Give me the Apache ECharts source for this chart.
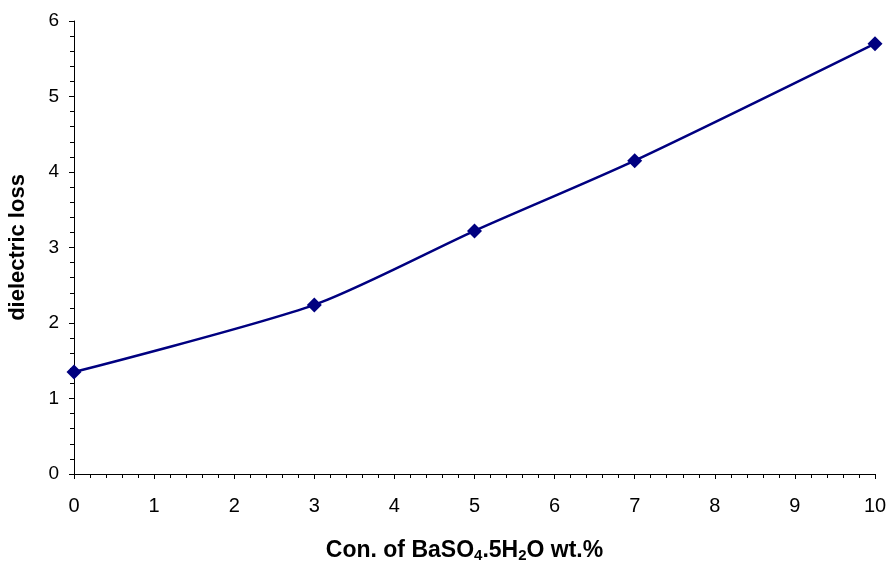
<!DOCTYPE html>
<html><head><meta charset="utf-8">
<script src="https://cdn.jsdelivr.net/npm/echarts@6/dist/echarts.min.js"></script>
<style>html,body{margin:0;padding:0;background:#fff}#c{width:889px;height:561px}</style>
</head><body><div id="c"></div>
<script>
const xValues = [0, 3, 5, 7, 10];
const lossValues = [1.35, 2.24, 3.22, 4.15, 5.70];
const xTicks = [0,1,2,3,4,5,6,7,8,9,10];
const yTicks = [0,1,2,3,4,5,6];

const chart = echarts.init(document.getElementById('c'));
const font = 'Liberation Sans, Arial, sans-serif';
chart.setOption({
  animation: false,
  grid: {left: 74, right: 14, top: 21, bottom: 87, containLabel: false, outerBoundsMode: 'none'},
  xAxis: {
    type: 'value', min: xTicks[0], max: xTicks[xTicks.length-1], interval: 1,
    axisLine: {lineStyle: {color: '#000', width: 1}},
    axisTick: {show: true, length: 5, lineStyle: {color: '#000'}},
    minorTick: {show: true, splitNumber: 5, length: 4, lineStyle: {color: '#000'}},
    splitLine: {show: false},
    axisLabel: {color: '#000', fontSize: 20, fontFamily: font, margin: 22},
    name: '{b|Con. of BaSO}{s|4}{b|.5H}{s|2}{b|O wt.%}',
    nameLocation: 'middle', nameGap: 64,
    nameTextStyle: {
      padding: [0, 20, 0, 0],
      rich: {
        b: {fontSize: 23, fontWeight: 'bold', fontFamily: font, color: '#000'},
        s: {fontSize: 15, fontWeight: 'bold', fontFamily: font, color: '#000', padding: [10,0,0,0]}
      }
    }
  },
  yAxis: {
    type: 'value', min: yTicks[0], max: yTicks[yTicks.length-1], interval: 1,
    axisLine: {show: true, lineStyle: {color: '#000', width: 1}},
    axisTick: {show: true, length: 5, lineStyle: {color: '#000'}},
    minorTick: {show: true, splitNumber: 5, length: 4, lineStyle: {color: '#000'}},
    splitLine: {show: false},
    axisLabel: {color: '#000', fontSize: 19, fontFamily: font, margin: 15},
    name: 'dielectric loss', nameLocation: 'middle', nameGap: 45,
    nameTextStyle: {fontSize: 22, fontWeight: 'bold', fontFamily: font, color: '#000'}
  },
  series: [{
    type: 'line',
    data: xValues.map((x, i) => [x, lossValues[i]]),
    smooth: 0.25,
    symbol: 'diamond', symbolSize: 15,
    lineStyle: {color: '#000080', width: 2.5},
    itemStyle: {color: '#000080'}
  }]
});
</script></body></html>
